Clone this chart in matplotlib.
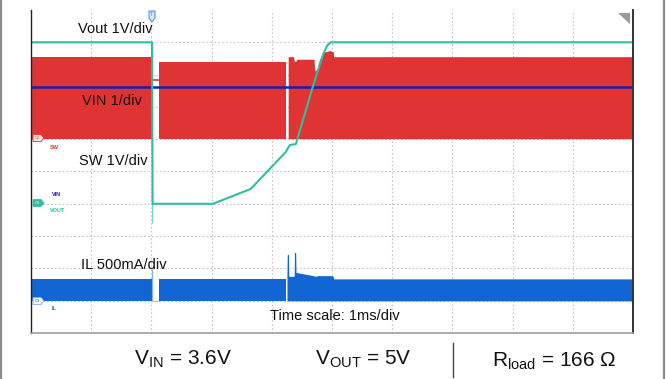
import matplotlib
matplotlib.use("Agg")
import matplotlib.pyplot as plt
import numpy as np
from matplotlib.patches import Polygon
from matplotlib.lines import Line2D

plt.rcParams["font.family"] = ["Liberation Sans", "DejaVu Sans"]

W, H = 666, 379
nan = np.nan

# time in ms (1 ms/div, 10 divisions)
# Vout channel: 1 V/div, ground at div 4
vout_t = [0.00, 2.01, 2.02, 3.02, 3.65, 4.23, 4.30, 4.40, 4.68, 4.85, 4.92, 4.98, 10.0]
vout_v = [5.00, 5.00, 0.00, 0.00, 0.46, 1.60, 1.82, 1.85, 3.62, 4.61, 4.90, 5.00, 5.00]
vout_glitch_t = 2.01
vout_glitch_min = -0.6

# VIN channel: 1 V/div, ground at div 4
vin_t = [0.0, 10.0]
vin_v = [3.62, 3.62]

# SW channel envelope: ground at div 6
sw_t = [0.00, 2.01, nan, 2.13, 4.23, nan, 4.28, 4.37, 4.38, 4.41, 4.42, 4.71,
        4.72, 4.76, 4.80, 4.88, 4.97, 5.03, 5.035, 10.0]
sw_top = [2.54, 2.54, nan, 2.39, 2.39, nan, 2.54, 2.54, 2.40, 2.40, 2.46, 2.46,
          2.10, 2.15, 2.45, 2.68, 2.73, 2.69, 2.54, 2.54]
sw_idle_t = [2.01, 2.13]
sw_idle_v = [1.83, 1.83]

# IL channel envelope: 500 mA/div, ground at div 1
il_t = [0.00, 2.01, nan, 2.13, 4.23, nan, 4.26, 4.265, 4.285, 4.29, 4.38, 4.385,
        4.405, 4.41, 4.75, 4.76, 5.02, 5.04, 10.0]
il_top = [0.335, 0.335, nan, 0.335, 0.335, nan, 0.37, 0.71, 0.71, 0.37, 0.37, 0.74,
          0.74, 0.43, 0.37, 0.38, 0.38, 0.33, 0.33]
il_spike_t = 2.01
il_spike_max = 0.49

ch_offset = {"vout": 4, "vin": 4, "sw": 6, "il": 1}
ch_scale = {"vout": 1.0, "vin": 1.0, "sw": 1.0, "il": 0.5}

C_SW = "#e03434"
C_VOUT = "#2ebfa0"
C_VIN = "#1c1ca8"
C_IL = "#1166d4"


def to_div(vals, ch):
    return ch_offset[ch] + np.asarray(vals, dtype=float) / ch_scale[ch]


def pf(x, y):
    return (x / W, 1 - y / H)


fig = plt.figure(figsize=(W / 100, H / 100), dpi=100)
ax = fig.add_axes([31 / W, 46 / H, 602 / W, 323 / H])
ax.set_xlim(0, 10)
ax.set_ylim(0, 10)
ax.set_xticks(np.arange(1, 10))
ax.set_yticks(np.arange(1, 10))
ax.tick_params(length=0, labelbottom=False, labelleft=False)
ax.grid(True, color="#c4c4c4", lw=0.8, ls=(0, (1.5, 2)))
ax.set_axisbelow(True)
ax.spines["top"].set_visible(False)
ax.spines["left"].set_color("#222222")
ax.spines["left"].set_linewidth(1.0)
ax.spines["right"].set_color("#333333")
ax.spines["right"].set_linewidth(1.4)
ax.spines["bottom"].set_color("#a0a0a0")
ax.spines["bottom"].set_linewidth(1.2)

# SW
ax.fill_between(sw_t, to_div(0, "sw"), to_div(sw_top, "sw"), color=C_SW, lw=0)
ax.plot(sw_idle_t, to_div(sw_idle_v, "sw"), color=C_SW, lw=1.2)

# IL
ax.fill_between(il_t, to_div(-0.01, "il"), to_div(il_top, "il"), color=C_IL, lw=0)
ax.vlines(il_spike_t, to_div(0, "il"), to_div(il_spike_max, "il"), color="#7fb0ea", lw=0.8)
ax.plot([2.01, 2.13], to_div([0.0, 0.0], "il"), color="#9cc2ee", lw=0.7)

# VIN
ax.plot(vin_t, to_div(vin_v, "vin"), color=C_VIN, lw=1.8)

# Vout
ax.vlines(vout_glitch_t, to_div(vout_glitch_min, "vout"), to_div(5.0, "vout"),
          color=C_VOUT, lw=0.7, alpha=0.7)
ax.plot(vout_t, to_div(vout_v, "vout"), color=C_VOUT, lw=1.5)

# channel labels
lab = dict(fontsize=10.5, color="#111111", va="center", ha="left")
fig.text(*pf(78, 29), "Vout 1V/div", **lab)
fig.text(*pf(82, 101), "VIN 1/div", **lab)
fig.text(*pf(79, 161), "SW 1V/div", **lab)
fig.text(*pf(81, 265), "IL 500mA/div", **lab)
fig.text(*pf(270, 316), "Time scale: 1ms/div", **lab)

small = dict(fontsize=4, va="center", ha="left", fontweight="bold")
fig.text(*pf(50, 148), "SW", color=C_SW, **small)
fig.text(*pf(52, 194), "VIN", color=C_VIN, **small)
fig.text(*pf(50, 210), "VOUT", color=C_VOUT, **small)
fig.text(*pf(52, 309), "IL", color=C_IL, **small)


def tag(y, edge, face, txtc, txt):
    pts = [pf(33, y - 3.5), pf(41, y - 3.5), pf(44, y), pf(41, y + 3.5), pf(33, y + 3.5)]
    fig.add_artist(Polygon(pts, closed=True, transform=fig.transFigure,
                           facecolor=face, edgecolor=edge, lw=0.6))
    fig.text(*pf(37.5, y), txt, fontsize=3, color=txtc, ha="center", va="center")


tag(138, C_SW, "#fbe3e3", C_SW, "C2")
tag(203, C_VOUT, C_VOUT, "white", "C5")
tag(301, "#7fb0ea", "#eef5fd", C_IL, "C3")

# trigger marker and corner flag
trig = [pf(149, 11), pf(155, 11), pf(155, 18), pf(152, 22), pf(149, 18)]
fig.add_artist(Polygon(trig, closed=True, transform=fig.transFigure,
                       facecolor="#dbe9f8", edgecolor="#3a8ad8", lw=0.7))
fig.text(*pf(152, 15), "T", fontsize=4, color="#3a8ad8", ha="center", va="center")
flag = [pf(618, 13), pf(630, 13), pf(630, 24)]
fig.add_artist(Polygon(flag, closed=True, transform=fig.transFigure,
                       facecolor="#9a9a9a", edgecolor="none"))

# bottom conditions
cond = dict(fontsize=15, color="#111111", va="baseline", ha="left")
fig.text(*pf(134, 364), r"V$_\mathregular{IN}$ = 3.6V", **cond)
fig.text(*pf(315, 364), r"V$_\mathregular{OUT}$ = 5V", **cond)
fig.text(*pf(492, 366), r"R$_\mathregular{load}$ = 166 $\mathregular{\Omega}$", **cond)
fig.add_artist(Line2D([453 / W, 453 / W], [1 - 343 / H, 1 - 377 / H],
                      transform=fig.transFigure, color="#444444", lw=1.0))

# outer frame
for xx in (1, 664):
    fig.add_artist(Line2D([xx / W, xx / W], [0, 1], transform=fig.transFigure,
                          color="#8a8a8a", lw=1.6))

fig.savefig("out.png", dpi=100, facecolor="white")
